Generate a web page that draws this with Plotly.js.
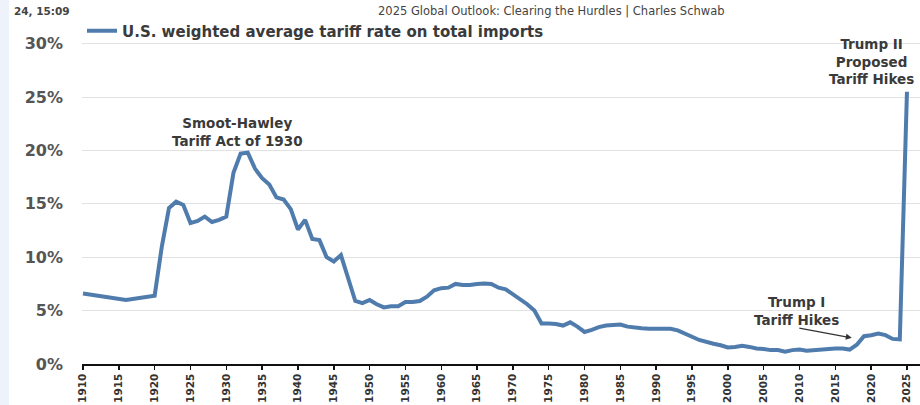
<!DOCTYPE html>
<html>
<head>
<meta charset="utf-8">
<script src="https://cdn.plot.ly/plotly-3.0.1.min.js"></script>
<style>
html,body{margin:0;padding:0;background:#ffffff;}
#chart{width:920px;height:405px;}
</style>
</head>
<body>
<div id="chart"></div>
<script>
// Data
var years = [1910,1913,1916,1920,1921,1922,1923,1924,1925,1926,1927,1928,1929,1930,
  1931,1932,1933,1934,1935,1936,1937,1938,1939,1940,1941,1942,1943,1944,1945,1946,
  1947,1948,1949,1950,1951,1952,1953,1954,1955,1956,1957,1958,1959,1960,1961,1962,
  1963,1964,1965,1966,1967,1968,1969,1970,1971,1972,1973,1974,1975,1976,1977,1978,
  1979,1980,1981,1982,1983,1984,1985,1986,1987,1988,1989,1990,1991,1992,1993,1994,
  1995,1996,1997,1998,1999,2000,2001,2002,2003,2004,2005,2006,2007,2008,2009,2010,
  2011,2012,2013,2014,2015,2016,2017,2018,2019,2020,2021,2022,2023,2024,2025];
var tariffRate = [6.6,6.3,6.0,6.4,11.0,14.6,15.2,14.9,13.2,13.4,13.8,13.3,13.5,13.8,
  17.9,19.7,19.8,18.3,17.4,16.8,15.6,15.4,14.5,12.6,13.5,11.7,11.6,10.0,9.6,10.2,
  8.0,5.9,5.7,6.0,5.6,5.3,5.4,5.4,5.8,5.8,5.9,6.3,6.9,7.1,7.15,7.5,
  7.4,7.4,7.5,7.55,7.5,7.15,7.0,6.55,6.1,5.6,5.0,3.8,3.8,3.75,3.6,3.9,
  3.5,3.0,3.2,3.45,3.6,3.65,3.7,3.5,3.4,3.35,3.3,3.3,3.35,3.3,3.15,2.9,
  2.55,2.25,2.05,1.9,1.75,1.55,1.6,1.7,1.6,1.45,1.4,1.3,1.3,1.15,1.3,1.35,
  1.25,1.3,1.35,1.45,1.45,1.45,1.35,1.8,2.6,2.7,2.85,2.7,2.35,2.3,25.5];
var seriesName = "U.S. weighted average tariff rate on total imports";
var xTickVals = [1910,1915,1920,1925,1930,1935,1940,1945,1950,1955,1960,1965,1970,
  1975,1980,1985,1990,1995,2000,2005,2010,2015,2020,2025];
var yTickVals = [0,5,10,15,20,25,30];
var yTickText = ["0%","5%","10%","15%","20%","25%","30%"];
var smootLabel = "Smoot-Hawley<br>Tariff Act of 1930";
var trump1Label = "Trump I<br>Tariff Hikes";
var trump2Label = "Trump II<br>Proposed<br>Tariff Hikes";

var W = 920, H = 405, ML = 82, MR = 0, MT = 33, MB = 41;
var PW = W - ML - MR, PH = H - MT - MB;
function px(x){ return (x - ML) / PW; }
function py(y){ return (H - MB - y) / PH; }

var annFont = {family: "DejaVu Sans", size: 13.5, color: "#3a3a3a", weight: "bold"};
function lbl(text, xd, yd){
  return {text: text, x: xd, y: yd, xref: "x", yref: "y", showarrow: false,
          xanchor: "center", yanchor: "middle", align: "center", font: annFont};
}

var trace = {
  x: years, y: tariffRate, type: "scatter", mode: "lines", name: seriesName,
  line: {color: "#4f7cad", width: 4}
};

var layout = {
  width: W, height: H,
  margin: {l: ML, r: MR, t: MT, b: MB, pad: 0},
  paper_bgcolor: "rgba(0,0,0,0)",
  plot_bgcolor: "rgba(0,0,0,0)",
  showlegend: true,
  legend: {x: px(82), xanchor: "left", y: py(31), yanchor: "middle",
           bgcolor: "rgba(0,0,0,0)", borderwidth: 0, itemwidth: 30,
           font: {family: "DejaVu Sans", size: 15, color: "#3a3a3a", weight: "bold"}},
  xaxis: {
    range: [1909.86, 2026.82], tickmode: "array", tickvals: xTickVals,
    tickangle: -90, ticks: "outside", ticklen: 4, tickwidth: 1.5, tickcolor: "#111111",
    showline: true, linecolor: "#111111", linewidth: 1.5,
    showgrid: false, zeroline: false, fixedrange: true,
    tickfont: {family: "DejaVu Sans", size: 10.5, color: "#333333", weight: "bold"}
  },
  yaxis: {
    range: [0, 31], tickmode: "array", tickvals: yTickVals, ticktext: yTickText,
    showgrid: true, gridcolor: "#e2e2e2", gridwidth: 1,
    zeroline: false, showline: false, ticks: "", ticklabelstandoff: 18,
    fixedrange: true,
    tickfont: {family: "DejaVu Sans", size: 16, color: "#555555", weight: "bold"}
  },
  shapes: [
    {type: "rect", xref: "paper", yref: "paper", x0: px(0), x1: px(9), y0: py(H), y1: py(0),
     fillcolor: "#eef3fb", line: {width: 0}, layer: "below"}
  ],
  annotations: [
    {text: "24, 15:09", xref: "paper", yref: "paper", x: px(72), y: py(11),
     xanchor: "right", yanchor: "middle", showarrow: false,
     font: {family: "DejaVu Sans", size: 10.5, color: "#444444", weight: "bold"}},
    {text: "2025 Global Outlook: Clearing the Hurdles | Charles Schwab", xref: "paper", yref: "paper",
     x: px(551), y: py(11), xanchor: "center", yanchor: "middle", showarrow: false,
     font: {family: "DejaVu Sans", size: 11.5, color: "#444444"}},
    lbl(smootLabel, 1931.6, 21.72),
    lbl(trump1Label, 2009.65, 4.92),
    lbl(trump2Label, 2020.1, 28.37),
    {text: "", x: 2017.3, y: 2.45, xref: "x", yref: "y", showarrow: true,
     ax: -54, ay: -10, arrowhead: 2, arrowsize: 1, arrowwidth: 1.2, arrowcolor: "#333333",
     standoff: 0}
  ]
};

Plotly.newPlot("chart", [trace], layout, {displayModeBar: false, staticPlot: true});
</script>
</body>
</html>
